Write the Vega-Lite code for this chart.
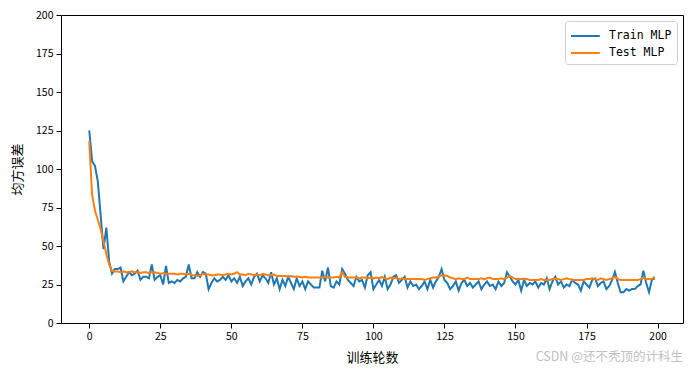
{
  "$schema": "https://vega.github.io/schema/vega-lite/v6.json",
  "width": 622,
  "height": 308,
  "autosize": {"type": "none"},
  "padding": {"left": 61, "top": 15, "right": 7, "bottom": 50},
  "background": "white",
  "config": {
    "view": {"stroke": "black", "strokeWidth": 1},
    "font": "Noto Sans CJK SC",
    "axis": {"domain": false, "grid": false, "tickColor": "black", "tickSize": 5, "labelColor": "black", "labelFontSize": 10.5, "labelFont": "Noto Sans CJK SC", "titleFont": "Noto Sans CJK SC", "titleFontSize": 13, "titleFontWeight": "normal", "titleColor": "black", "labelPadding": 3}
  },
  "title": {"text": "CSDN @还不秃顶的计科生", "orient": "bottom", "anchor": "end", "color": "#c0c0c0", "fontSize": 12.5, "fontWeight": "normal", "font": "Noto Sans CJK SC", "offset": -14, "dx": 0},
  "data": {"values": [
    {"epoch":0,"Train MLP":125,"Test MLP":118},{"epoch":1,"Train MLP":105,"Test MLP":83},{"epoch":2,"Train MLP":102,"Test MLP":73},{"epoch":3,"Train MLP":92,"Test MLP":67},{"epoch":4,"Train MLP":70,"Test MLP":61},
    {"epoch":5,"Train MLP":48,"Test MLP":53},{"epoch":6,"Train MLP":62,"Test MLP":45},{"epoch":7,"Train MLP":40,"Test MLP":38},{"epoch":8,"Train MLP":32,"Test MLP":34},{"epoch":9,"Train MLP":35,"Test MLP":33.5},
    {"epoch":10,"Train MLP":35,"Test MLP":33.5},{"epoch":11,"Train MLP":36,"Test MLP":33},{"epoch":12,"Train MLP":27,"Test MLP":33.5},{"epoch":13,"Train MLP":30,"Test MLP":33},{"epoch":14,"Train MLP":33,"Test MLP":33},
    {"epoch":15,"Train MLP":31,"Test MLP":33.5},{"epoch":16,"Train MLP":32,"Test MLP":33},{"epoch":17,"Train MLP":34,"Test MLP":33},{"epoch":18,"Train MLP":28,"Test MLP":32.5},{"epoch":19,"Train MLP":30,"Test MLP":33},
    {"epoch":20,"Train MLP":30,"Test MLP":33},{"epoch":21,"Train MLP":29,"Test MLP":32.5},{"epoch":22,"Train MLP":38,"Test MLP":33},{"epoch":23,"Train MLP":28,"Test MLP":33},{"epoch":24,"Train MLP":30,"Test MLP":32.5},
    {"epoch":25,"Train MLP":31,"Test MLP":32},{"epoch":26,"Train MLP":25,"Test MLP":32.5},{"epoch":27,"Train MLP":37,"Test MLP":32},{"epoch":28,"Train MLP":26,"Test MLP":32},{"epoch":29,"Train MLP":27,"Test MLP":32},
    {"epoch":30,"Train MLP":26,"Test MLP":32},{"epoch":31,"Train MLP":28,"Test MLP":31.5},{"epoch":32,"Train MLP":27,"Test MLP":32},{"epoch":33,"Train MLP":29,"Test MLP":32},{"epoch":34,"Train MLP":30,"Test MLP":31.5},
    {"epoch":35,"Train MLP":38,"Test MLP":32},{"epoch":36,"Train MLP":29,"Test MLP":31},{"epoch":37,"Train MLP":29,"Test MLP":31},{"epoch":38,"Train MLP":33,"Test MLP":30.5},{"epoch":39,"Train MLP":30,"Test MLP":31},
    {"epoch":40,"Train MLP":33,"Test MLP":32},{"epoch":41,"Train MLP":32,"Test MLP":31.5},{"epoch":42,"Train MLP":22,"Test MLP":31.5},{"epoch":43,"Train MLP":26,"Test MLP":31},{"epoch":44,"Train MLP":29,"Test MLP":31},
    {"epoch":45,"Train MLP":27,"Test MLP":31.5},{"epoch":46,"Train MLP":28,"Test MLP":31.5},{"epoch":47,"Train MLP":30,"Test MLP":31},{"epoch":48,"Train MLP":28,"Test MLP":31.5},{"epoch":49,"Train MLP":31,"Test MLP":32},
    {"epoch":50,"Train MLP":27,"Test MLP":31.5},{"epoch":51,"Train MLP":29,"Test MLP":32},{"epoch":52,"Train MLP":26,"Test MLP":33},{"epoch":53,"Train MLP":30,"Test MLP":31.5},{"epoch":54,"Train MLP":24,"Test MLP":31.5},
    {"epoch":55,"Train MLP":27,"Test MLP":31},{"epoch":56,"Train MLP":29,"Test MLP":32},{"epoch":57,"Train MLP":25,"Test MLP":31.5},{"epoch":58,"Train MLP":30,"Test MLP":31},{"epoch":59,"Train MLP":32,"Test MLP":31.5},
    {"epoch":60,"Train MLP":27,"Test MLP":31},{"epoch":61,"Train MLP":31,"Test MLP":32},{"epoch":62,"Train MLP":29,"Test MLP":31.5},{"epoch":63,"Train MLP":26,"Test MLP":31},{"epoch":64,"Train MLP":33,"Test MLP":31},
    {"epoch":65,"Train MLP":25,"Test MLP":31.5},{"epoch":66,"Train MLP":29,"Test MLP":30.5},{"epoch":67,"Train MLP":22,"Test MLP":30.5},{"epoch":68,"Train MLP":28,"Test MLP":30.5},{"epoch":69,"Train MLP":24,"Test MLP":30.5},
    {"epoch":70,"Train MLP":30,"Test MLP":30},{"epoch":71,"Train MLP":26,"Test MLP":30.5},{"epoch":72,"Train MLP":22,"Test MLP":30},{"epoch":73,"Train MLP":29,"Test MLP":30},{"epoch":74,"Train MLP":24,"Test MLP":30},
    {"epoch":75,"Train MLP":27,"Test MLP":29.5},{"epoch":76,"Train MLP":22,"Test MLP":30},{"epoch":77,"Train MLP":27,"Test MLP":29.5},{"epoch":78,"Train MLP":25,"Test MLP":29.5},{"epoch":79,"Train MLP":23,"Test MLP":29.5},
    {"epoch":80,"Train MLP":23,"Test MLP":29.5},{"epoch":81,"Train MLP":23,"Test MLP":29.5},{"epoch":82,"Train MLP":34,"Test MLP":29.5},{"epoch":83,"Train MLP":27,"Test MLP":30},{"epoch":84,"Train MLP":36,"Test MLP":29.5},
    {"epoch":85,"Train MLP":24,"Test MLP":29.5},{"epoch":86,"Train MLP":23,"Test MLP":29.5},{"epoch":87,"Train MLP":27,"Test MLP":30},{"epoch":88,"Train MLP":25,"Test MLP":29.5},{"epoch":89,"Train MLP":35,"Test MLP":33},
    {"epoch":90,"Train MLP":32,"Test MLP":30},{"epoch":91,"Train MLP":28,"Test MLP":29.5},{"epoch":92,"Train MLP":26,"Test MLP":29.5},{"epoch":93,"Train MLP":24,"Test MLP":29.5},{"epoch":94,"Train MLP":30,"Test MLP":29.5},
    {"epoch":95,"Train MLP":27,"Test MLP":29},{"epoch":96,"Train MLP":28,"Test MLP":29.5},{"epoch":97,"Train MLP":23,"Test MLP":29.5},{"epoch":98,"Train MLP":31,"Test MLP":29},{"epoch":99,"Train MLP":33,"Test MLP":29.5},
    {"epoch":100,"Train MLP":22,"Test MLP":29},{"epoch":101,"Train MLP":25,"Test MLP":29.5},{"epoch":102,"Train MLP":28,"Test MLP":29},{"epoch":103,"Train MLP":24,"Test MLP":30},{"epoch":104,"Train MLP":30,"Test MLP":29},
    {"epoch":105,"Train MLP":22,"Test MLP":28.5},{"epoch":106,"Train MLP":25,"Test MLP":29.5},{"epoch":107,"Train MLP":30,"Test MLP":29},{"epoch":108,"Train MLP":31,"Test MLP":29.5},{"epoch":109,"Train MLP":26,"Test MLP":28.5},
    {"epoch":110,"Train MLP":28,"Test MLP":29},{"epoch":111,"Train MLP":30,"Test MLP":28.5},{"epoch":112,"Train MLP":23,"Test MLP":28.5},{"epoch":113,"Train MLP":27,"Test MLP":28.5},{"epoch":114,"Train MLP":24,"Test MLP":28.5},
    {"epoch":115,"Train MLP":25,"Test MLP":28.5},{"epoch":116,"Train MLP":22,"Test MLP":28.5},{"epoch":117,"Train MLP":24,"Test MLP":28.5},{"epoch":118,"Train MLP":27,"Test MLP":28},{"epoch":119,"Train MLP":22,"Test MLP":28.5},
    {"epoch":120,"Train MLP":28,"Test MLP":29},{"epoch":121,"Train MLP":23,"Test MLP":29.5},{"epoch":122,"Train MLP":27,"Test MLP":29.5},{"epoch":123,"Train MLP":30,"Test MLP":30},{"epoch":124,"Train MLP":35,"Test MLP":31},
    {"epoch":125,"Train MLP":28,"Test MLP":31},{"epoch":126,"Train MLP":26,"Test MLP":30.5},{"epoch":127,"Train MLP":22,"Test MLP":29.5},{"epoch":128,"Train MLP":24,"Test MLP":29},{"epoch":129,"Train MLP":27,"Test MLP":28.5},
    {"epoch":130,"Train MLP":21,"Test MLP":29},{"epoch":131,"Train MLP":26,"Test MLP":28.5},{"epoch":132,"Train MLP":28,"Test MLP":28.5},{"epoch":133,"Train MLP":24,"Test MLP":29.5},{"epoch":134,"Train MLP":26,"Test MLP":28.5},
    {"epoch":135,"Train MLP":23,"Test MLP":28.5},{"epoch":136,"Train MLP":25,"Test MLP":28.5},{"epoch":137,"Train MLP":27,"Test MLP":28.5},{"epoch":138,"Train MLP":22,"Test MLP":29},{"epoch":139,"Train MLP":25,"Test MLP":28.5},
    {"epoch":140,"Train MLP":27,"Test MLP":29},{"epoch":141,"Train MLP":24,"Test MLP":29.5},{"epoch":142,"Train MLP":25,"Test MLP":28.5},{"epoch":143,"Train MLP":22,"Test MLP":28.5},{"epoch":144,"Train MLP":27,"Test MLP":28.5},
    {"epoch":145,"Train MLP":24,"Test MLP":29},{"epoch":146,"Train MLP":26,"Test MLP":28.5},{"epoch":147,"Train MLP":33,"Test MLP":29.5},{"epoch":148,"Train MLP":30,"Test MLP":30.5},{"epoch":149,"Train MLP":27,"Test MLP":29.5},
    {"epoch":150,"Train MLP":25,"Test MLP":28.5},{"epoch":151,"Train MLP":28,"Test MLP":28.5},{"epoch":152,"Train MLP":21,"Test MLP":28.5},{"epoch":153,"Train MLP":28,"Test MLP":28.5},{"epoch":154,"Train MLP":24,"Test MLP":28.5},
    {"epoch":155,"Train MLP":26,"Test MLP":28},{"epoch":156,"Train MLP":25,"Test MLP":28},{"epoch":157,"Train MLP":27,"Test MLP":28},{"epoch":158,"Train MLP":23,"Test MLP":28},{"epoch":159,"Train MLP":26,"Test MLP":28.5},
    {"epoch":160,"Train MLP":25,"Test MLP":28},{"epoch":161,"Train MLP":29,"Test MLP":28},{"epoch":162,"Train MLP":22,"Test MLP":28},{"epoch":163,"Train MLP":27,"Test MLP":28.5},{"epoch":164,"Train MLP":30,"Test MLP":28.5},
    {"epoch":165,"Train MLP":25,"Test MLP":28.5},{"epoch":166,"Train MLP":27,"Test MLP":28},{"epoch":167,"Train MLP":23,"Test MLP":28.5},{"epoch":168,"Train MLP":25,"Test MLP":29},{"epoch":169,"Train MLP":24,"Test MLP":28.5},
    {"epoch":170,"Train MLP":28,"Test MLP":28},{"epoch":171,"Train MLP":26,"Test MLP":28},{"epoch":172,"Train MLP":25,"Test MLP":28},{"epoch":173,"Train MLP":21,"Test MLP":28},{"epoch":174,"Train MLP":27,"Test MLP":28},
    {"epoch":175,"Train MLP":25,"Test MLP":28.5},{"epoch":176,"Train MLP":23,"Test MLP":28.5},{"epoch":177,"Train MLP":28,"Test MLP":29},{"epoch":178,"Train MLP":29,"Test MLP":28.5},{"epoch":179,"Train MLP":24,"Test MLP":28},
    {"epoch":180,"Train MLP":26,"Test MLP":29},{"epoch":181,"Train MLP":27,"Test MLP":28.5},{"epoch":182,"Train MLP":22,"Test MLP":28},{"epoch":183,"Train MLP":24,"Test MLP":28.5},{"epoch":184,"Train MLP":28,"Test MLP":29},
    {"epoch":185,"Train MLP":33,"Test MLP":30},{"epoch":186,"Train MLP":26,"Test MLP":28.5},{"epoch":187,"Train MLP":20,"Test MLP":28},{"epoch":188,"Train MLP":20,"Test MLP":28},{"epoch":189,"Train MLP":22,"Test MLP":28},
    {"epoch":190,"Train MLP":21,"Test MLP":28},{"epoch":191,"Train MLP":22,"Test MLP":28},{"epoch":192,"Train MLP":22,"Test MLP":28},{"epoch":193,"Train MLP":24,"Test MLP":28},{"epoch":194,"Train MLP":25,"Test MLP":28.5},
    {"epoch":195,"Train MLP":34,"Test MLP":29.5},{"epoch":196,"Train MLP":26,"Test MLP":28.5},{"epoch":197,"Train MLP":20,"Test MLP":28.5},{"epoch":198,"Train MLP":28,"Test MLP":28.5},{"epoch":199,"Train MLP":29,"Test MLP":30}
  ]},
  "transform": [{"fold": ["Train MLP", "Test MLP"], "as": ["series", "mse"]}],
  "mark": {"type": "line", "strokeWidth": 2, "clip": true},
  "encoding": {
    "x": {"field": "epoch", "type": "quantitative", "scale": {"domain": [-9.95, 208.95], "nice": false, "zero": false},
      "axis": {"values": [0, 25, 50, 75, 100, 125, 150, 175, 200], "title": "训练轮数", "titlePadding": 10}},
    "y": {"field": "mse", "type": "quantitative", "scale": {"domain": [0, 200], "nice": false},
      "axis": {"values": [0, 25, 50, 75, 100, 125, 150, 175, 200], "title": "均方误差", "titlePadding": 11}},
    "color": {"field": "series", "type": "nominal",
      "scale": {"domain": ["Train MLP", "Test MLP"], "range": ["#1f77b4", "#ff7f0e"]},
      "legend": {"title": null, "orient": "top-right", "offset": 6, "symbolType": "M-1,0H2.2", "symbolSize": 324, "symbolStrokeWidth": 2,
        "labelFont": "DejaVu Sans Mono", "labelFontSize": 11.5, "labelColor": "black", "labelOffset": 19, "rowPadding": 1,
        "strokeColor": "#d0d0d0", "fillColor": "white", "cornerRadius": 3, "padding": 5}},
    "order": {"field": "epoch", "type": "quantitative"}
  }
}
